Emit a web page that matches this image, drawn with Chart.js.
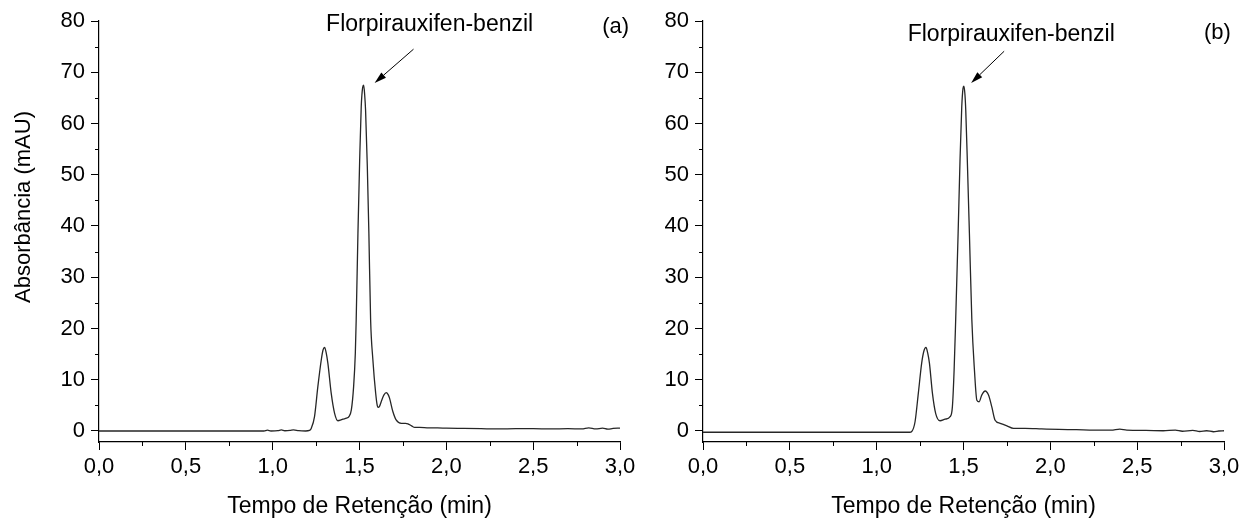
<!DOCTYPE html>
<html>
<head>
<meta charset="utf-8">
<script src="https://cdn.jsdelivr.net/npm/chart.js@4.4.1/dist/chart.umd.min.js"></script>
<style>
  html, body { margin: 0; padding: 0; background: #fff; }
  #wrap { position: relative; width: 1251px; height: 520px; }
  .panel { position: absolute; top: 0; height: 520px; }
  #panelA { left: 0; width: 640px; }
  #panelB { left: 640px; width: 611px; }
</style>
</head>
<body>
<div id="wrap">
  <div class="panel" id="panelA"><canvas id="chartA" width="640" height="520"></canvas></div>
  <div class="panel" id="panelB"><canvas id="chartB" width="611" height="520"></canvas></div>
</div>
<script>
// chromatogram (a)
const timeA = [0.00, 0.50, 0.95, 0.97, 0.99, 1.03, 1.05, 1.07, 1.10, 1.12, 1.15, 1.19,
  1.212, 1.222, 1.241, 1.260, 1.280, 1.290, 1.299, 1.308, 1.318, 1.337, 1.357, 1.376,
  1.390, 1.404, 1.425, 1.439, 1.453, 1.466, 1.476, 1.481, 1.491, 1.501, 1.510, 1.518,
  1.524, 1.530, 1.535, 1.545, 1.554, 1.564, 1.577, 1.593, 1.602, 1.608, 1.615, 1.625,
  1.640, 1.654, 1.665, 1.673, 1.692, 1.712, 1.741, 1.765, 1.779, 1.800, 1.818, 1.846,
  1.90, 1.95, 2.00, 2.10, 2.20, 2.30, 2.40, 2.50, 2.60, 2.70, 2.78, 2.82, 2.86, 2.90,
  2.93, 2.96, 3.00];
const absA = [0.00, 0.00, 0.00, 0.15, 0.00, 0.05, 0.20, 0.05, 0.10, 0.20, 0.05, 0.00,
  0.10, 0.50, 2.8, 8.6, 13.9, 15.8, 16.3, 15.3, 13.2, 7.4, 3.4, 2.0,
  2.1, 2.3, 2.5, 2.8, 4.1, 8.6, 15.2, 21.7, 38.6, 52.9, 63.3, 67.0,
  67.5, 65.5, 62.6, 51.6, 38.6, 21.7, 13.9, 7.4, 5.0, 4.6, 4.8, 5.7,
  7.0, 7.5, 7.1, 6.4, 3.8, 2.1, 1.5, 1.5, 1.4, 1.0, 0.7, 0.7,
  0.6, 0.6, 0.55, 0.5, 0.45, 0.4, 0.45, 0.45, 0.4, 0.45, 0.4, 0.6, 0.4, 0.55,
  0.35, 0.5, 0.55];

// chromatogram (b)
const timeB = [0.00, 0.50, 1.00, 1.19, 1.202, 1.221, 1.240, 1.259, 1.272, 1.284, 1.294,
  1.304, 1.321, 1.340, 1.365, 1.394, 1.423, 1.436, 1.446, 1.455, 1.469, 1.480, 1.490,
  1.497, 1.502, 1.508, 1.513, 1.523, 1.534, 1.548, 1.563, 1.577, 1.590, 1.605, 1.625,
  1.644, 1.663, 1.682, 1.711, 1.750, 1.788, 1.855, 1.95, 2.05, 2.15, 2.25, 2.35, 2.40,
  2.44, 2.55, 2.65, 2.72, 2.76, 2.82, 2.86, 2.90, 2.94, 2.97, 3.00];
const absB = [-0.25, -0.25, -0.25, -0.25, -0.1, 1.8, 7.4, 13.2, 15.6, 16.3, 15.2,
  13.2, 7.4, 3.4, 2.0, 2.3, 2.8, 4.7, 11.9, 21.7, 38.6, 52.9, 63.3,
  66.8, 67.3, 65.8, 62.6, 51.6, 38.6, 21.7, 11.9, 6.0, 5.7, 7.0, 7.8,
  7.0, 4.7, 2.1, 1.5, 1.0, 0.5, 0.5, 0.4, 0.3, 0.25, 0.15, 0.15, 0.35,
  0.15, 0.1, 0.05, 0.15, -0.05, 0.1, -0.1, 0.05, -0.15, 0.0, 0.05];

const xTicks = [0, 0.5, 1.0, 1.5, 2.0, 2.5, 3.0];
const xMinor = [0.25, 0.75, 1.25, 1.75, 2.25, 2.75];
const yTicks = [0, 10, 20, 30, 40, 50, 60, 70, 80];
const yMinor = [5, 15, 25, 35, 45, 55, 65, 75];
const yMin = -2.15;
const yMax = 80;

const compound = 'Florpirauxifen-benzil';
const xTitle = 'Tempo de Retenção (min)';
const yTitleText = 'Absorbância (mAU)';

const FONT = '"Liberation Sans", Arial, sans-serif';
const fmtComma = v => Number(v).toFixed(1).replace('.', ',');

// small outward ticks between the labelled ones
const minorTicks = {
  id: 'minorTicks',
  afterDraw(chart) {
    const { ctx, scales: { x, y } } = chart;
    ctx.save();
    ctx.strokeStyle = '#000';
    ctx.lineWidth = 1;
    ctx.beginPath();
    xMinor.forEach(v => {
      const px = Math.round(x.getPixelForValue(v)) + 0.5;
      ctx.moveTo(px, y.bottom);
      ctx.lineTo(px, y.bottom + 4);
    });
    yMinor.forEach(v => {
      const py = Math.round(y.getPixelForValue(v)) + 0.5;
      ctx.moveTo(x.left, py);
      ctx.lineTo(x.left - 4, py);
    });
    ctx.stroke();
    ctx.restore();
  }
};

// compound label with arrow to the peak, plus the panel letter
const peakNote = {
  id: 'peakNote',
  afterDraw(chart, args, o) {
    const { ctx, scales: { x, y } } = chart;
    ctx.save();
    ctx.fillStyle = '#000';
    ctx.strokeStyle = '#000';
    ctx.font = '23px ' + FONT;
    ctx.textAlign = 'center';
    ctx.textBaseline = 'middle';
    ctx.fillText(o.text, x.getPixelForValue(o.textAt[0]), y.getPixelForValue(o.textAt[1]));
    ctx.font = '22px ' + FONT;
    ctx.fillText(o.tag, x.getPixelForValue(o.tagAt[0]), y.getPixelForValue(o.tagAt[1]));

    const x0 = x.getPixelForValue(o.from[0]), y0 = y.getPixelForValue(o.from[1]);
    const x1 = x.getPixelForValue(o.to[0]), y1 = y.getPixelForValue(o.to[1]);
    const ang = Math.atan2(y1 - y0, x1 - x0);
    const head = 12, half = 3.5;
    ctx.lineWidth = 1;
    ctx.beginPath();
    ctx.moveTo(x0, y0);
    ctx.lineTo(x1 - head * Math.cos(ang), y1 - head * Math.sin(ang));
    ctx.stroke();
    ctx.beginPath();
    ctx.moveTo(x1, y1);
    ctx.lineTo(x1 - head * Math.cos(ang) + half * Math.sin(ang), y1 - head * Math.sin(ang) - half * Math.cos(ang));
    ctx.lineTo(x1 - head * Math.cos(ang) - half * Math.sin(ang), y1 - head * Math.sin(ang) + half * Math.cos(ang));
    ctx.closePath();
    ctx.fill();
    ctx.restore();
  }
};

// rotated y title, only on the left panel
const yTitle = {
  id: 'yTitle',
  afterDraw(chart, args, o) {
    if (!o.text) return;
    const { ctx } = chart;
    ctx.save();
    ctx.translate(o.x, o.y);
    ctx.rotate(-Math.PI / 2);
    ctx.font = '22px ' + FONT;
    ctx.fillStyle = '#000';
    ctx.textAlign = 'center';
    ctx.textBaseline = 'middle';
    ctx.fillText(o.text, 0, 0);
    ctx.restore();
  }
};

function buildChart(canvasId, time, absorb, cfg) {
  return new Chart(document.getElementById(canvasId), {
    type: 'scatter',
    data: {
      datasets: [{
        data: time.map((t, i) => ({ x: t, y: absorb[i] })),
        showLine: true,
        borderColor: '#262626',
        borderWidth: 1.3,
        pointRadius: 0,
        cubicInterpolationMode: 'monotone',
        fill: false
      }]
    },
    options: {
      responsive: false,
      animation: false,
      events: [],
      layout: { padding: { top: 21, right: cfg.padRight, left: 0, bottom: 0 } },
      plugins: {
        legend: { display: false },
        tooltip: { enabled: false },
        peakNote: cfg.note,
        yTitle: cfg.yTitle || {}
      },
      scales: {
        x: {
          type: 'linear',
          min: 0,
          max: 3,
          afterBuildTicks: s => { s.ticks = xTicks.map(v => ({ value: v })); },
          afterFit: s => { s.height = 78; },
          ticks: {
            callback: v => fmtComma(v),
            color: '#000',
            font: { family: FONT, size: 22 },
            padding: 4,
            maxRotation: 0,
            autoSkip: false
          },
          grid: { drawOnChartArea: false, drawTicks: true, tickLength: 8, color: '#000', lineWidth: 1 },
          border: { display: true, color: '#000', width: 1.2 },
          title: {
            display: true,
            text: xTitle,
            color: '#000',
            font: { family: FONT, size: 23 },
            padding: { top: 0, bottom: 0 }
          }
        },
        y: {
          type: 'linear',
          min: yMin,
          max: yMax,
          afterBuildTicks: s => { s.ticks = yTicks.map(v => ({ value: v })); },
          afterFit: s => { s.width = cfg.yWidth; },
          ticks: {
            color: '#000',
            font: { family: FONT, size: 22 },
            padding: 6
          },
          grid: { drawOnChartArea: false, drawTicks: true, tickLength: 8, color: '#000', lineWidth: 1 },
          border: { display: true, color: '#000', width: 1.2 }
        }
      }
    },
    plugins: [minorTicks, peakNote, yTitle]
  });
}

buildChart('chartA', timeA, absA, {
  padRight: 20,
  yWidth: 99,
  note: { text: compound, textAt: [1.904, 79.2], from: [1.811, 74.5], to: [1.587, 67.9], tag: '(a)', tagAt: [2.975, 78.8] },
  yTitle: { text: yTitleText, x: 24, y: 207 }
});

buildChart('chartB', timeB, absB, {
  padRight: 27,
  yWidth: 63,
  note: { text: compound, textAt: [1.775, 77.3], from: [1.734, 74.1], to: [1.544, 67.9], tag: '(b)', tagAt: [2.962, 77.7] }
});
</script>
</body>
</html>
